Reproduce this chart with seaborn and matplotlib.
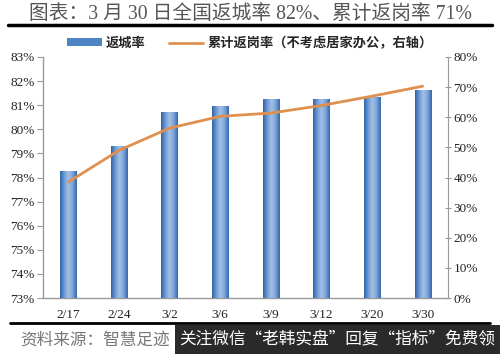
import numpy as np
import pandas as pd
import matplotlib.pyplot as plt
import seaborn as sns
from matplotlib.colors import LinearSegmentedColormap
from matplotlib.patches import Patch, Rectangle
from matplotlib.lines import Line2D

# Data
dates = ['2/17', '2/24', '3/2', '3/6', '3/9', '3/12', '3/20', '3/30']
return_city = [78.24, 79.30, 80.69, 80.94, 81.22, 81.25, 81.30, 81.60]   # left axis, %
return_work = [38.5, 49.0, 56.4, 60.3, 61.4, 63.9, 67.0, 70.3]          # right axis, %
left_ticks = list(range(73, 84))
right_ticks = list(range(0, 81, 10))

df = pd.DataFrame({'date': dates, 'city': return_city, 'work': return_work})
df['pos'] = np.arange(len(df))

sns.set_style('white')
plt.rcParams['font.family'] = ['Liberation Serif', 'Noto Sans CJK SC', 'DejaVu Sans']
cjk = ['Liberation Serif', 'Noto Sans CJK SC']

fig = plt.figure(figsize=(5, 3.54), dpi=100)
ax = fig.add_axes([0.086, 0.158, 0.81, 0.681])

# Bars
sns.barplot(data=df, x='date', y='city', color='#4F84C4', width=0.32, ax=ax,
            saturation=1, zorder=2)
ax.set_ylim(73, 83)
ax.set_xlim(-0.5, 7.5)

# Gradient fill for bars
grad_cmap = LinearSegmentedColormap.from_list(
    'bar', ['#2E62A8', '#6F9AD3', '#A2C0E6', '#7DA4D8', '#3469B0'])
grad = np.linspace(0, 1, 64).reshape(1, -1)
for p in ax.patches:
    x0, w = p.get_x(), p.get_width()
    top = p.get_y() + p.get_height()
    ax.imshow(grad, extent=[x0, x0 + w, 73, top],
              aspect='auto', cmap=grad_cmap, zorder=3)
ax.set_ylim(73, 83)
ax.set_xlim(-0.5, 7.5)

ax.set_yticks(left_ticks)
ax.set_yticklabels([f'{v}%' for v in left_ticks])
ax.set_xlabel('')
ax.set_ylabel('')
ax.set_xticks(df['pos'])
ax.set_xticklabels(dates)
ax.set_xticks(np.arange(-0.5, 8, 1), minor=True)
ax.tick_params(axis='x', which='major', length=0, labelsize=9.5, colors='#222222', pad=8)
ax.tick_params(axis='x', which='minor', length=4, color='#999999', direction='out')
ax.tick_params(axis='y', length=4, color='#999999', labelsize=9.5, colors='#222222',
               direction='out', pad=2, left=True)
for s in ['left', 'bottom']:
    ax.spines[s].set_color('#999999')
    ax.spines[s].set_linewidth(1)
ax.spines['top'].set_visible(False)
ax.spines['right'].set_visible(False)

# Line on right axis
ax2 = ax.twinx()
sns.lineplot(x=df['pos'], y=df['work'], color='#E0904E', linewidth=2, ax=ax2, zorder=4)
ax2.set_ylim(0, 80)
ax2.set_xlim(-0.5, 7.5)
ax2.set_yticks(right_ticks)
ax2.set_yticklabels([f'{v}%' for v in right_ticks])
ax2.set_ylabel('')
ax2.tick_params(axis='y', length=4, color='#999999', labelsize=9.5, colors='#222222',
                direction='inout', pad=2, right=True)
for s in ['left', 'top', 'bottom']:
    ax2.spines[s].set_visible(False)
ax2.spines['right'].set_color('#999999')

# Legend
handles = [Patch(facecolor='#4F84C4', edgecolor='none'),
           Line2D([0], [0], color='#E0904E', linewidth=2)]
labels = ['返城率', '累计返岗率（不考虑居家办公，右轴）']
fig.legend(handles, labels, loc='center', bbox_to_anchor=(0.5, 0.878), ncol=2,
           frameon=False, handlelength=2.6, handleheight=0.5, columnspacing=1.8,
           handletextpad=0.3, prop={'family': cjk, 'weight': 'bold', 'size': 9.5})

# Title and rules
fig.text(0.5, 0.958, '图表：3 月 30 日全国返城率 82%、累计返岗率 71%', ha='center', va='center',
         fontsize=14.2, color='#555555', family=cjk)
fig.add_artist(Line2D([0.016, 0.984], [0.928, 0.928], color='black', linewidth=2.5))
fig.add_artist(Line2D([0.02, 0.98], [0.088, 0.088], color='black', linewidth=2))

# Source line and watermark
fig.text(0.04, 0.038, '资料来源：智慧足迹', ha='left', va='center', fontsize=12,
         color='#777777', family=cjk)
fig.add_artist(Rectangle((0.35, 0), 0.65, 0.082, transform=fig.transFigure,
                         facecolor='#2a2a2a', edgecolor='none'))
fig.text(0.675, 0.04, '关注微信“老韩实盘”回复“指标”免费领', ha='center', va='center',
         fontsize=12, color='white', family=['Noto Sans CJK SC'])

fig.savefig('out.png', dpi=100)
